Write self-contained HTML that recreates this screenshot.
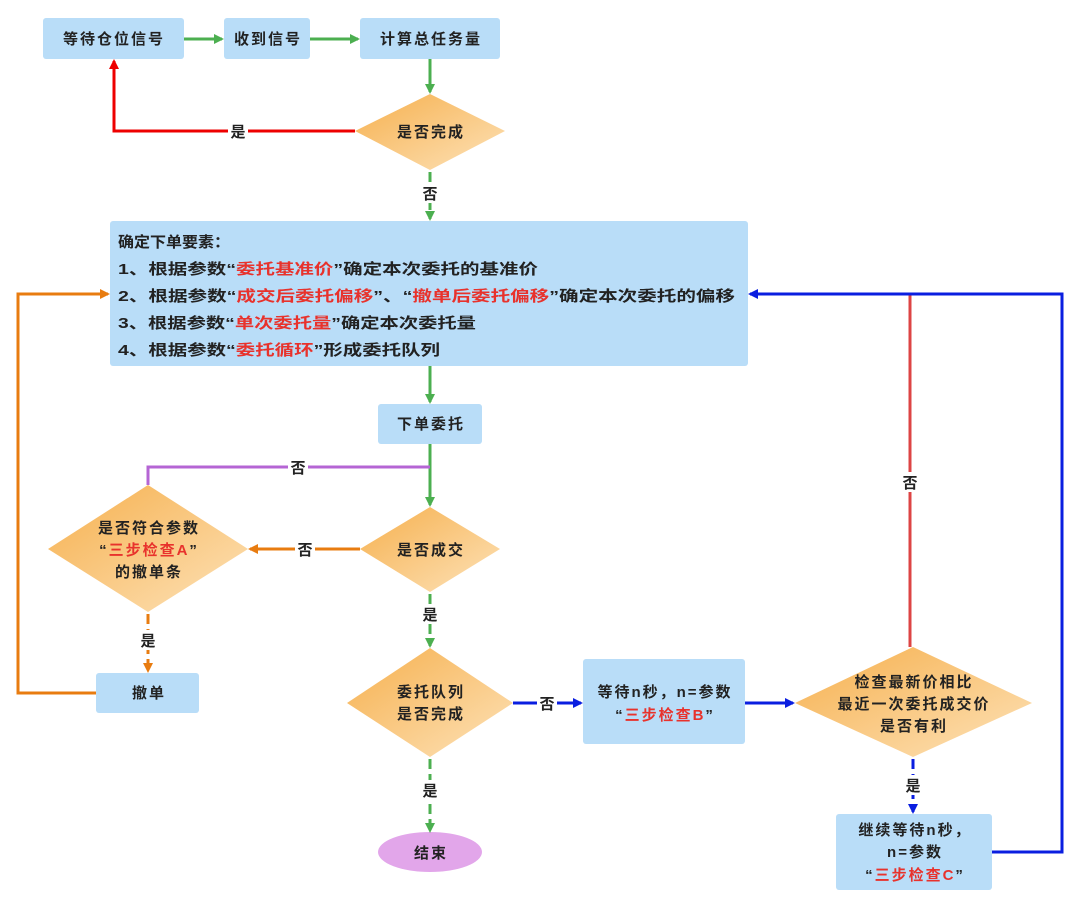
<!DOCTYPE html>
<html><head><meta charset="utf-8"><style>
html,body{margin:0;padding:0;background:#fff;}
svg{display:block;font-family:"Liberation Sans","Noto Sans CJK SC",sans-serif;font-weight:bold;}
text{fill:#222;font-size:15px;}
.m text{letter-spacing:2px;}
.r{fill:#e8322c;}
</style></head><body>
<svg width="1080" height="908" viewBox="0 0 1080 908" xmlns="http://www.w3.org/2000/svg">
<defs>
<linearGradient id="og" x1="0" y1="0" x2="1" y2="1"><stop offset="0" stop-color="#f6b04e"/><stop offset="1" stop-color="#fde2b8"/></linearGradient>
<marker id="ag" markerWidth="10" markerHeight="10" refX="8" refY="5" orient="auto" markerUnits="userSpaceOnUse"><path d="M0,0 L10,5 L0,10z" fill="#4caf50"/></marker>
<marker id="ar" markerWidth="10" markerHeight="10" refX="8" refY="5" orient="auto" markerUnits="userSpaceOnUse"><path d="M0,0 L10,5 L0,10z" fill="#e00"/></marker>
<marker id="ao" markerWidth="10" markerHeight="10" refX="8" refY="5" orient="auto" markerUnits="userSpaceOnUse"><path d="M0,0 L10,5 L0,10z" fill="#e87c10"/></marker>
<marker id="ab" markerWidth="10" markerHeight="10" refX="8" refY="5" orient="auto" markerUnits="userSpaceOnUse"><path d="M0,0 L10,5 L0,10z" fill="#0a1ee0"/></marker>
</defs>
<g fill="#b9ddf8">
<rect x="43" y="18" width="141" height="41" rx="3"/>
<rect x="224" y="18" width="86" height="41" rx="3"/>
<rect x="360" y="18" width="140" height="41" rx="3"/>
<rect x="110" y="221" width="638" height="145" rx="3"/>
<rect x="378" y="404" width="104" height="40" rx="3"/>
<rect x="96" y="673" width="103" height="40" rx="3"/>
<rect x="583" y="659" width="162" height="85" rx="3"/>
<rect x="836" y="814" width="156" height="76" rx="3"/>
</g>
<g fill="url(#og)">
<polygon points="430,94 505,131 430,170 355,131"/>
<polygon points="430,507 500,549 430,592 360,549"/>
<polygon points="148,485 248,549 148,612 48,549"/>
<polygon points="430,648 513,703 430,757 347,703"/>
<polygon points="913,647 1032,703 913,757 795,703"/>
</g>
<ellipse cx="430" cy="852" rx="52" ry="20" fill="#e2a6ea"/>
<g fill="none" stroke-width="3">
<line x1="184" y1="39" x2="222" y2="39" stroke="#4caf50" marker-end="url(#ag)"/>
<line x1="310" y1="39" x2="358" y2="39" stroke="#4caf50" marker-end="url(#ag)"/>
<line x1="430" y1="59" x2="430" y2="92" stroke="#4caf50" marker-end="url(#ag)"/>
<path d="M355,131 H114 V61" stroke="#e00" marker-end="url(#ar)"/>
<line x1="430" y1="172" x2="430" y2="219" stroke="#4caf50" stroke-dasharray="10,4" marker-end="url(#ag)"/>
<line x1="430" y1="366" x2="430" y2="402" stroke="#4caf50" marker-end="url(#ag)"/>
<line x1="430" y1="444" x2="430" y2="505" stroke="#4caf50" marker-end="url(#ag)"/>
<path d="M430,467 H148 V485" stroke="#b565d4"/>
<line x1="360" y1="549" x2="250" y2="549" stroke="#e87c10" marker-end="url(#ao)"/>
<line x1="148" y1="614" x2="148" y2="671" stroke="#e87c10" stroke-dasharray="10,5" marker-end="url(#ao)"/>
<path d="M96,693 H18 V294 H108" stroke="#e87c10" marker-end="url(#ao)"/>
<line x1="430" y1="594" x2="430" y2="646" stroke="#4caf50" stroke-dasharray="10,5" marker-end="url(#ag)"/>
<line x1="430" y1="759" x2="430" y2="831" stroke="#4caf50" stroke-dasharray="10,5" marker-end="url(#ag)"/>
<line x1="513" y1="703" x2="581" y2="703" stroke="#0a1ee0" marker-end="url(#ab)"/>
<line x1="745" y1="703" x2="793" y2="703" stroke="#0a1ee0" marker-end="url(#ab)"/>
<line x1="910" y1="647" x2="910" y2="294" stroke="#d44"/>
<line x1="913" y1="759" x2="913" y2="812" stroke="#0a1ee0" stroke-dasharray="10,5" marker-end="url(#ab)"/>
<path d="M992,852 H1062 V294 H750" stroke="#0a1ee0" marker-end="url(#ab)"/>
</g>
<g text-anchor="middle">
<rect x="228" y="122" width="20" height="18" fill="#fff"/><text x="238" y="137">是</text>
<rect x="420" y="183" width="20" height="20" fill="#fff"/><text x="430" y="199">否</text>
<rect x="288" y="458" width="20" height="18" fill="#fff"/><text x="298" y="473">否</text>
<rect x="295" y="540" width="20" height="18" fill="#fff"/><text x="305" y="555">否</text>
<rect x="138" y="630" width="20" height="20" fill="#fff"/><text x="148" y="646">是</text>
<rect x="420" y="604" width="20" height="20" fill="#fff"/><text x="430" y="620">是</text>
<rect x="420" y="780" width="20" height="20" fill="#fff"/><text x="430" y="796">是</text>
<rect x="537" y="694" width="20" height="18" fill="#fff"/><text x="547" y="709">否</text>
<rect x="900" y="472" width="20" height="20" fill="#fff"/><text x="910" y="488">否</text>
<rect x="903" y="775" width="20" height="20" fill="#fff"/><text x="913" y="791">是</text>
</g>
<g text-anchor="middle" class="m">
<text x="114" y="44">等待仓位信号</text>
<text x="268" y="44">收到信号</text>
<text x="431" y="44">计算总任务量</text>
<text x="431" y="137">是否完成</text>
<text x="431" y="429">下单委托</text>
<text x="431" y="555">是否成交</text>
<text x="149" y="533">是否符合参数</text>
<text x="149" y="555">“<tspan class="r">三步检查A</tspan>”</text>
<text x="149" y="577">的撤单条</text>
<text x="149" y="698">撤单</text>
<text x="431" y="697">委托队列</text>
<text x="431" y="719">是否完成</text>
<text x="665" y="697">等待n秒，n=参数</text>
<text x="665" y="720">“<tspan class="r">三步检查B</tspan>”</text>
<text x="914" y="687">检查最新价相比</text>
<text x="914" y="709">最近一次委托成交价</text>
<text x="914" y="731">是否有利</text>
<text x="915" y="835">继续等待n秒，</text>
<text x="915" y="857">n=参数</text>
<text x="915" y="880">“<tspan class="r">三步检查C</tspan>”</text>
<text x="431" y="858">结束</text>
</g>
<g>
<text x="118" y="247" textLength="112" lengthAdjust="spacingAndGlyphs">确定下单要素：</text>
<text x="118" y="274" textLength="420" lengthAdjust="spacingAndGlyphs">1、根据参数“<tspan class="r">委托基准价</tspan>”确定本次委托的基准价</text>
<text x="118" y="301" textLength="617" lengthAdjust="spacingAndGlyphs">2、根据参数“<tspan class="r">成交后委托偏移</tspan>”、“<tspan class="r">撤单后委托偏移</tspan>”确定本次委托的偏移</text>
<text x="118" y="328" textLength="358" lengthAdjust="spacingAndGlyphs">3、根据参数“<tspan class="r">单次委托量</tspan>”确定本次委托量</text>
<text x="118" y="355" textLength="322" lengthAdjust="spacingAndGlyphs">4、根据参数“<tspan class="r">委托循环</tspan>”形成委托队列</text>
</g>
</svg>
</body></html>
